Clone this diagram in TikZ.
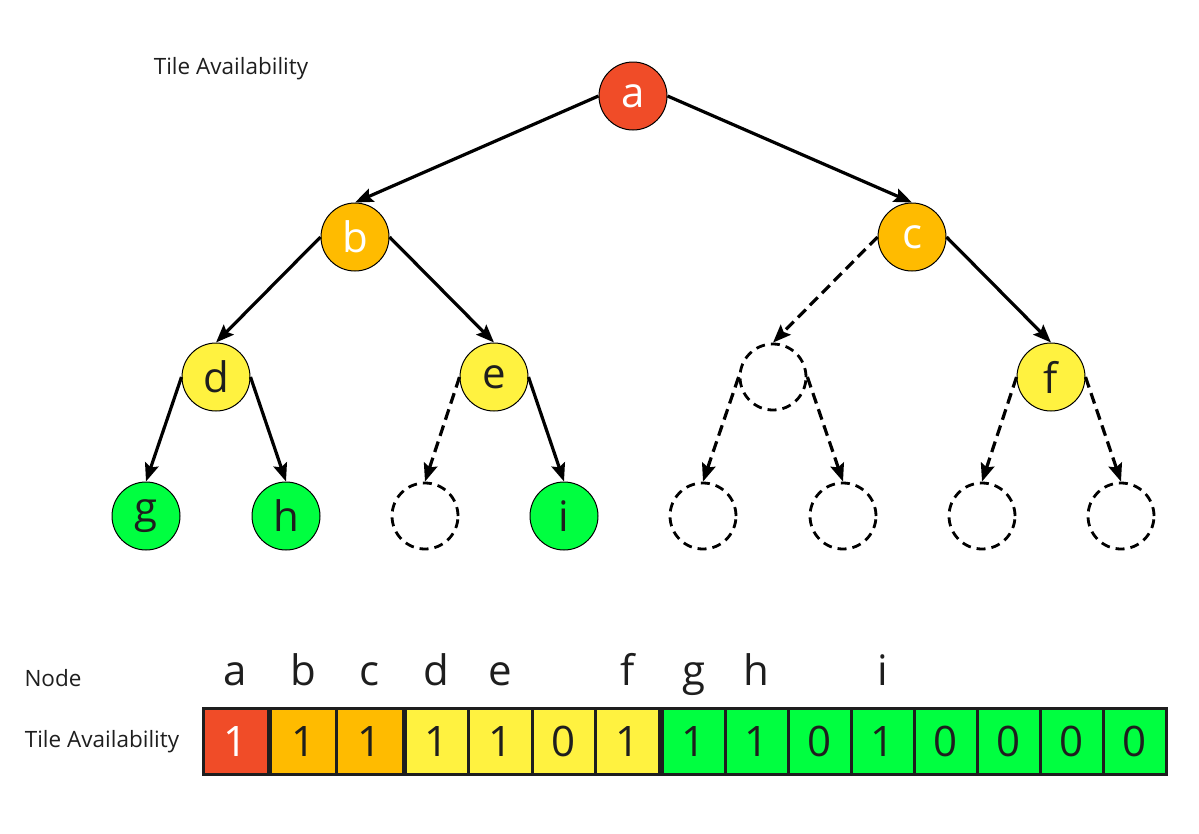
\documentclass[tikz,border=0pt]{standalone}
\usepackage{fontspec}
\setmainfont{Open Sans}
\usetikzlibrary{arrows.meta}
\definecolor{tred}{RGB}{240,76,40}
\definecolor{torange}{RGB}{255,187,0}
\definecolor{tyellow}{RGB}{255,242,64}
\definecolor{tgreen}{RGB}{0,255,64}
\definecolor{ink}{RGB}{30,30,30}
\begin{document}
\begin{tikzpicture}[x=1pt,y=-1pt,
  big/.style={font=\fontsize{42}{46}\selectfont},
  small/.style={font=\fontsize{22.5}{27}\selectfont,text=ink},
  tnode/.style={circle,draw=black,line width=1pt,minimum size=68pt,inner sep=0pt,big,text=ink},
  ghost/.style={circle,draw=black,line width=2.8pt,dash pattern=on 9pt off 6pt,minimum size=66pt,inner sep=0pt},
  link/.style={line width=3.2pt,-{Stealth[length=18pt,width=14pt,inset=3pt]}},
  maybe/.style={link,dash pattern=on 11pt off 6pt},
  cell/.style={draw=ink,line width=3pt,minimum height=66pt,inner sep=0pt,big,text=ink},
  lab/.style={anchor=base,big,text=ink}]
\useasboundingbox (0,0) rectangle (1199,833);

% title
\node[small] (title) at (231,69) {Tile Availability};

% tree
\node[tnode,fill=tred,text=white] (a) at (633,96) {a};
\node[tnode,fill=torange,text=white] (b) at (355,237) {b};
\node[tnode,fill=torange,text=white] (c) at (912,237) {c};
\node[tnode,fill=tyellow] (d) at (216,377) {d};
\node[tnode,fill=tyellow] (e) at (494,377) {e};
\node[ghost] (x1) at (773,377) {};
\node[tnode,fill=tyellow] (f) at (1051,377) {f};
\node[tnode,fill=tgreen] (g) at (146,516) {g};
\node[tnode,fill=tgreen] (h) at (286,516) {h};
\node[ghost] (x2) at (425,516) {};
\node[tnode,fill=tgreen] (i) at (564,516) {i};
\node[ghost] (x3) at (703,516) {};
\node[ghost] (x4) at (843,516) {};
\node[ghost] (x5) at (982,516) {};
\node[ghost] (x6) at (1121,516) {};

\draw[link] (a.west) -- (b.north);
\draw[link] (a.east) -- (c.north);
\draw[link] (b.west) -- (d.north);
\draw[link] (b.east) -- (e.north);
\draw[maybe] (c.west) -- (x1.north);
\draw[link] (c.east) -- (f.north);
\draw[link] (d.west) -- (g.north);
\draw[link] (d.east) -- (h.north);
\draw[maybe] (e.west) -- (x2.north);
\draw[link] (e.east) -- (i.north);
\draw[maybe] (x1.west) -- (x3.north);
\draw[maybe] (x1.east) -- (x4.north);
\draw[maybe] (f.west) -- (x5.north);
\draw[maybe] (f.east) -- (x6.north);

% array
\node[small] (nodelab) at (53,678) {Node};
\node[small] (availlab) at (102,742) {Tile Availability};

\node[cell,fill=tred,text=white,minimum width=65pt] (k1) at (235.5,741) {1};
\node[cell,fill=torange,minimum width=66.5pt] (k2) at (303.25,741) {1};
\node[cell,fill=torange,minimum width=66.5pt] (k3) at (369.75,741) {1};
\node[cell,fill=tyellow,minimum width=63.5pt] (k4) at (436.75,741) {1};
\node[cell,fill=tyellow,minimum width=63.5pt] (k5) at (500.25,741) {1};
\node[cell,fill=tyellow,minimum width=63.5pt] (k6) at (563.75,741) {0};
\node[cell,fill=tyellow,minimum width=63.5pt] (k7) at (627.25,741) {1};
\node[cell,fill=tgreen,minimum width=63pt] (k8) at (693.5,741) {1};
\node[cell,fill=tgreen,minimum width=63pt] (k9) at (756.5,741) {1};
\node[cell,fill=tgreen,minimum width=63pt] (k10) at (819.5,741) {0};
\node[cell,fill=tgreen,minimum width=63pt] (k11) at (882.5,741) {1};
\node[cell,fill=tgreen,minimum width=63pt] (k12) at (945.5,741) {0};
\node[cell,fill=tgreen,minimum width=63pt] (k13) at (1008.5,741) {0};
\node[cell,fill=tgreen,minimum width=63pt] (k14) at (1071.5,741) {0};
\node[cell,fill=tgreen,minimum width=63pt] (k15) at (1134.5,741) {0};

\coordinate (base) at (0,685);
\node[lab] (la) at (k1 |- base) {a};
\node[lab] (lb) at (k2 |- base) {b};
\node[lab] (lc) at (k3 |- base) {c};
\node[lab] (ld) at (k4 |- base) {d};
\node[lab] (le) at (k5 |- base) {e};
\node[lab] (lf) at (k7 |- base) {f};
\node[lab] (lg) at (k8 |- base) {g};
\node[lab] (lh) at (k9 |- base) {h};
\node[lab] (li) at (k11 |- base) {i};
\end{tikzpicture}
\end{document}
